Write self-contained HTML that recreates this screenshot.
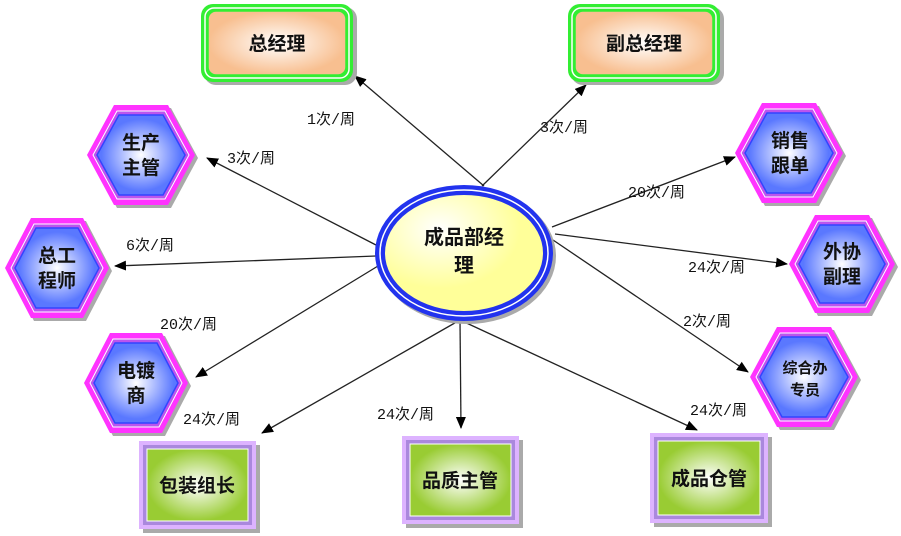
<!DOCTYPE html>
<html><head><meta charset="utf-8"><style>
html,body{margin:0;padding:0;background:#fff;}
svg{display:block;}
text{font-family:"Liberation Sans","Noto Sans CJK SC",sans-serif;}
.lb{font-size:15px;fill:#111;font-family:"Liberation Mono","Noto Sans CJK SC",monospace;}
.t{font-size:19px;font-weight:bold;fill:#111;text-anchor:middle;}
</style></head><body>
<svg width="901" height="536" viewBox="0 0 901 536" xmlns="http://www.w3.org/2000/svg">
<defs>
<radialGradient id="og"><stop offset="0" stop-color="#fff"/><stop offset="1" stop-color="#f8bf90"/></radialGradient>
<radialGradient id="bg"><stop offset="0" stop-color="#fff"/><stop offset="0.9" stop-color="#5a78ff"/></radialGradient>
<radialGradient id="gg"><stop offset="0" stop-color="#fff"/><stop offset="1" stop-color="#99cc33"/></radialGradient>
<radialGradient id="yg" cx="0.35" cy="0.3"><stop offset="0" stop-color="#fff"/><stop offset="1" stop-color="#ffff99"/></radialGradient>
<marker id="a" markerWidth="12" markerHeight="10" refX="11" refY="5" orient="auto" markerUnits="userSpaceOnUse"><path d="M0,0 L12,5 L0,10 z" fill="#000"/></marker>
</defs>

<!-- connectors -->
<g stroke="#222" stroke-width="1.3" marker-end="url(#a)">
<line x1="484" y1="186" x2="355" y2="76"/>
<line x1="482" y1="186" x2="586" y2="85"/>
<line x1="376" y1="245" x2="207" y2="158"/>
<line x1="376" y1="256" x2="115" y2="266"/>
<line x1="378" y1="266" x2="196" y2="377"/>
<line x1="460" y1="320" x2="262" y2="433"/>
<line x1="460" y1="320" x2="461" y2="428"/>
<line x1="460" y1="320" x2="697" y2="430"/>
<line x1="552" y1="227" x2="735" y2="157"/>
<line x1="555" y1="234" x2="787" y2="264"/>
<line x1="553" y1="240" x2="748" y2="372"/>
</g>

<!-- top boxes -->
<g>
<rect x="204" y="7" width="153" height="78" rx="12" fill="#aaa"/>
<rect x="201" y="4" width="152" height="78" rx="12" fill="#33ee33"/>
<rect x="205" y="8" width="144" height="70" rx="9" fill="none" stroke="#fff" stroke-width="1.5"/>
<rect x="208" y="11" width="138" height="64" rx="8" fill="url(#og)" stroke="#33ee33" stroke-width="1.5"/>
<text class="t" x="277" y="50">总经理</text>
<rect x="571" y="7" width="153" height="78" rx="12" fill="#aaa"/>
<rect x="568" y="4" width="152" height="78" rx="12" fill="#33ee33"/>
<rect x="572" y="8" width="144" height="70" rx="9" fill="none" stroke="#fff" stroke-width="1.5"/>
<rect x="575" y="11" width="138" height="64" rx="8" fill="url(#og)" stroke="#33ee33" stroke-width="1.5"/>
<text class="t" x="644" y="50">副总经理</text>
</g>

<!-- hexagons -->
<g stroke-linejoin="miter">
<polygon points="90,158 117,108 171,108 198,158 171,208 117,208" fill="#aaa"/>
<polygon points="87,155 114,105 168,105 195,155 168,205 114,205" fill="#ff33ff"/>
<polygon points="93,155 117,111 165,111 189,155 165,199 117,199" fill="#bb55ee" stroke="#fff" stroke-width="1"/>
<polygon points="97,155 119,115 163,115 185,155 163,195 119,195" fill="url(#bg)" stroke="#3344ff" stroke-width="1.5"/>
<text class="t" x="141" y="149">生产</text><text class="t" x="141" y="174">主管</text>
<polygon points="8,271 34,221 86,221 112,271 86,321 34,321" fill="#aaa"/>
<polygon points="5,268 31,218 83,218 109,268 83,318 31,318" fill="#ff33ff"/>
<polygon points="11,268 34,224 80,224 103,268 80,312 34,312" fill="#bb55ee" stroke="#fff"/>
<polygon points="15,268 36,228 78,228 99,268 78,308 36,308" fill="url(#bg)" stroke="#3344ff" stroke-width="1.5"/>
<text class="t" x="57" y="262">总工</text><text class="t" x="57" y="287">程师</text>
<polygon points="87,386 113,336 165,336 191,386 165,436 113,436" fill="#aaa"/>
<polygon points="84,383 110,333 162,333 188,383 162,433 110,433" fill="#ff33ff"/>
<polygon points="90,383 113,339 159,339 182,383 159,427 113,427" fill="#bb55ee" stroke="#fff"/>
<polygon points="94,383 115,343 157,343 178,383 157,423 115,423" fill="url(#bg)" stroke="#3344ff" stroke-width="1.5"/>
<text class="t" x="136" y="377">电镀</text><text class="t" x="136" y="402">商</text>
<polygon points="738,156 765,106 819,106 846,156 819,206 765,206" fill="#aaa"/>
<polygon points="735,153 762,103 816,103 843,153 816,203 762,203" fill="#ff33ff"/>
<polygon points="741,153 765,109 813,109 837,153 813,197 765,197" fill="#bb55ee" stroke="#fff"/>
<polygon points="745,153 767,113 811,113 833,153 811,193 767,193" fill="url(#bg)" stroke="#3344ff" stroke-width="1.5"/>
<text class="t" x="790" y="147">销售</text><text class="t" x="790" y="172">跟单</text>
<polygon points="792,267 818,218 872,218 898,267 872,316 818,316" fill="#aaa"/>
<polygon points="789,264 815,215 869,215 895,264 869,313 815,313" fill="#ff33ff"/>
<polygon points="795,264 818,221 866,221 889,264 866,307 818,307" fill="#bb55ee" stroke="#fff"/>
<polygon points="799,264 820,225 864,225 885,264 864,303 820,303" fill="url(#bg)" stroke="#3344ff" stroke-width="1.5"/>
<text class="t" x="842" y="258">外协</text><text class="t" x="842" y="283">副理</text>
<polygon points="753,380 780,330 834,330 861,380 834,430 780,430" fill="#aaa"/>
<polygon points="750,377 777,327 831,327 858,377 831,427 777,427" fill="#ff33ff"/>
<polygon points="756,377 780,333 828,333 852,377 828,421 780,421" fill="#bb55ee" stroke="#fff"/>
<polygon points="760,377 782,337 826,337 848,377 826,417 782,417" fill="url(#bg)" stroke="#3344ff" stroke-width="1.5"/>
<text class="t" x="805" y="373" style="font-size:15px">综合办</text><text class="t" x="805" y="395" style="font-size:15px">专员</text>
</g>

<!-- center ellipse -->
<ellipse cx="467" cy="256" rx="89" ry="68" fill="#aaa"/>
<ellipse cx="464" cy="253" rx="89" ry="68" fill="#2233ee"/>
<ellipse cx="464" cy="253" rx="84" ry="63" fill="none" stroke="#fff" stroke-width="1.5"/>
<ellipse cx="464" cy="253" rx="80" ry="59" fill="url(#yg)" stroke="#2233ee" stroke-width="2"/>
<text class="t" x="464" y="244" style="font-size:20px">成品部经</text>
<text class="t" x="464" y="272" style="font-size:20px">理</text>

<!-- bottom boxes -->
<g>
<rect x="143" y="445" width="117" height="88" fill="#aaa"/>
<rect x="139" y="441" width="117" height="88" fill="#ddb3ff"/>
<rect x="143" y="445" width="109" height="80" fill="#aa88dd"/>
<rect x="147" y="449" width="101" height="72" fill="url(#gg)" stroke="#fff"/>
<text class="t" x="197" y="492">包装组长</text>
<rect x="406" y="440" width="117" height="88" fill="#aaa"/>
<rect x="402" y="436" width="117" height="88" fill="#ddb3ff"/>
<rect x="406" y="440" width="109" height="80" fill="#aa88dd"/>
<rect x="410" y="444" width="101" height="72" fill="url(#gg)" stroke="#fff"/>
<text class="t" x="460" y="487">品质主管</text>
<rect x="654" y="437" width="118" height="90" fill="#aaa"/>
<rect x="650" y="433" width="118" height="90" fill="#ddb3ff"/>
<rect x="654" y="437" width="110" height="82" fill="#aa88dd"/>
<rect x="658" y="441" width="102" height="74" fill="url(#gg)" stroke="#fff"/>
<text class="t" x="709" y="485">成品仓管</text>
</g>

<!-- labels -->
<g>
<text class="lb" x="307" y="124">1次/周</text>
<text class="lb" x="540" y="132">3次/周</text>
<text class="lb" x="227" y="163">3次/周</text>
<text class="lb" x="126" y="250">6次/周</text>
<text class="lb" x="160" y="329">20次/周</text>
<text class="lb" x="183" y="424">24次/周</text>
<text class="lb" x="377" y="419">24次/周</text>
<text class="lb" x="690" y="415">24次/周</text>
<text class="lb" x="628" y="197">20次/周</text>
<text class="lb" x="688" y="272">24次/周</text>
<text class="lb" x="683" y="326">2次/周</text>
</g>
</svg>
</body></html>
